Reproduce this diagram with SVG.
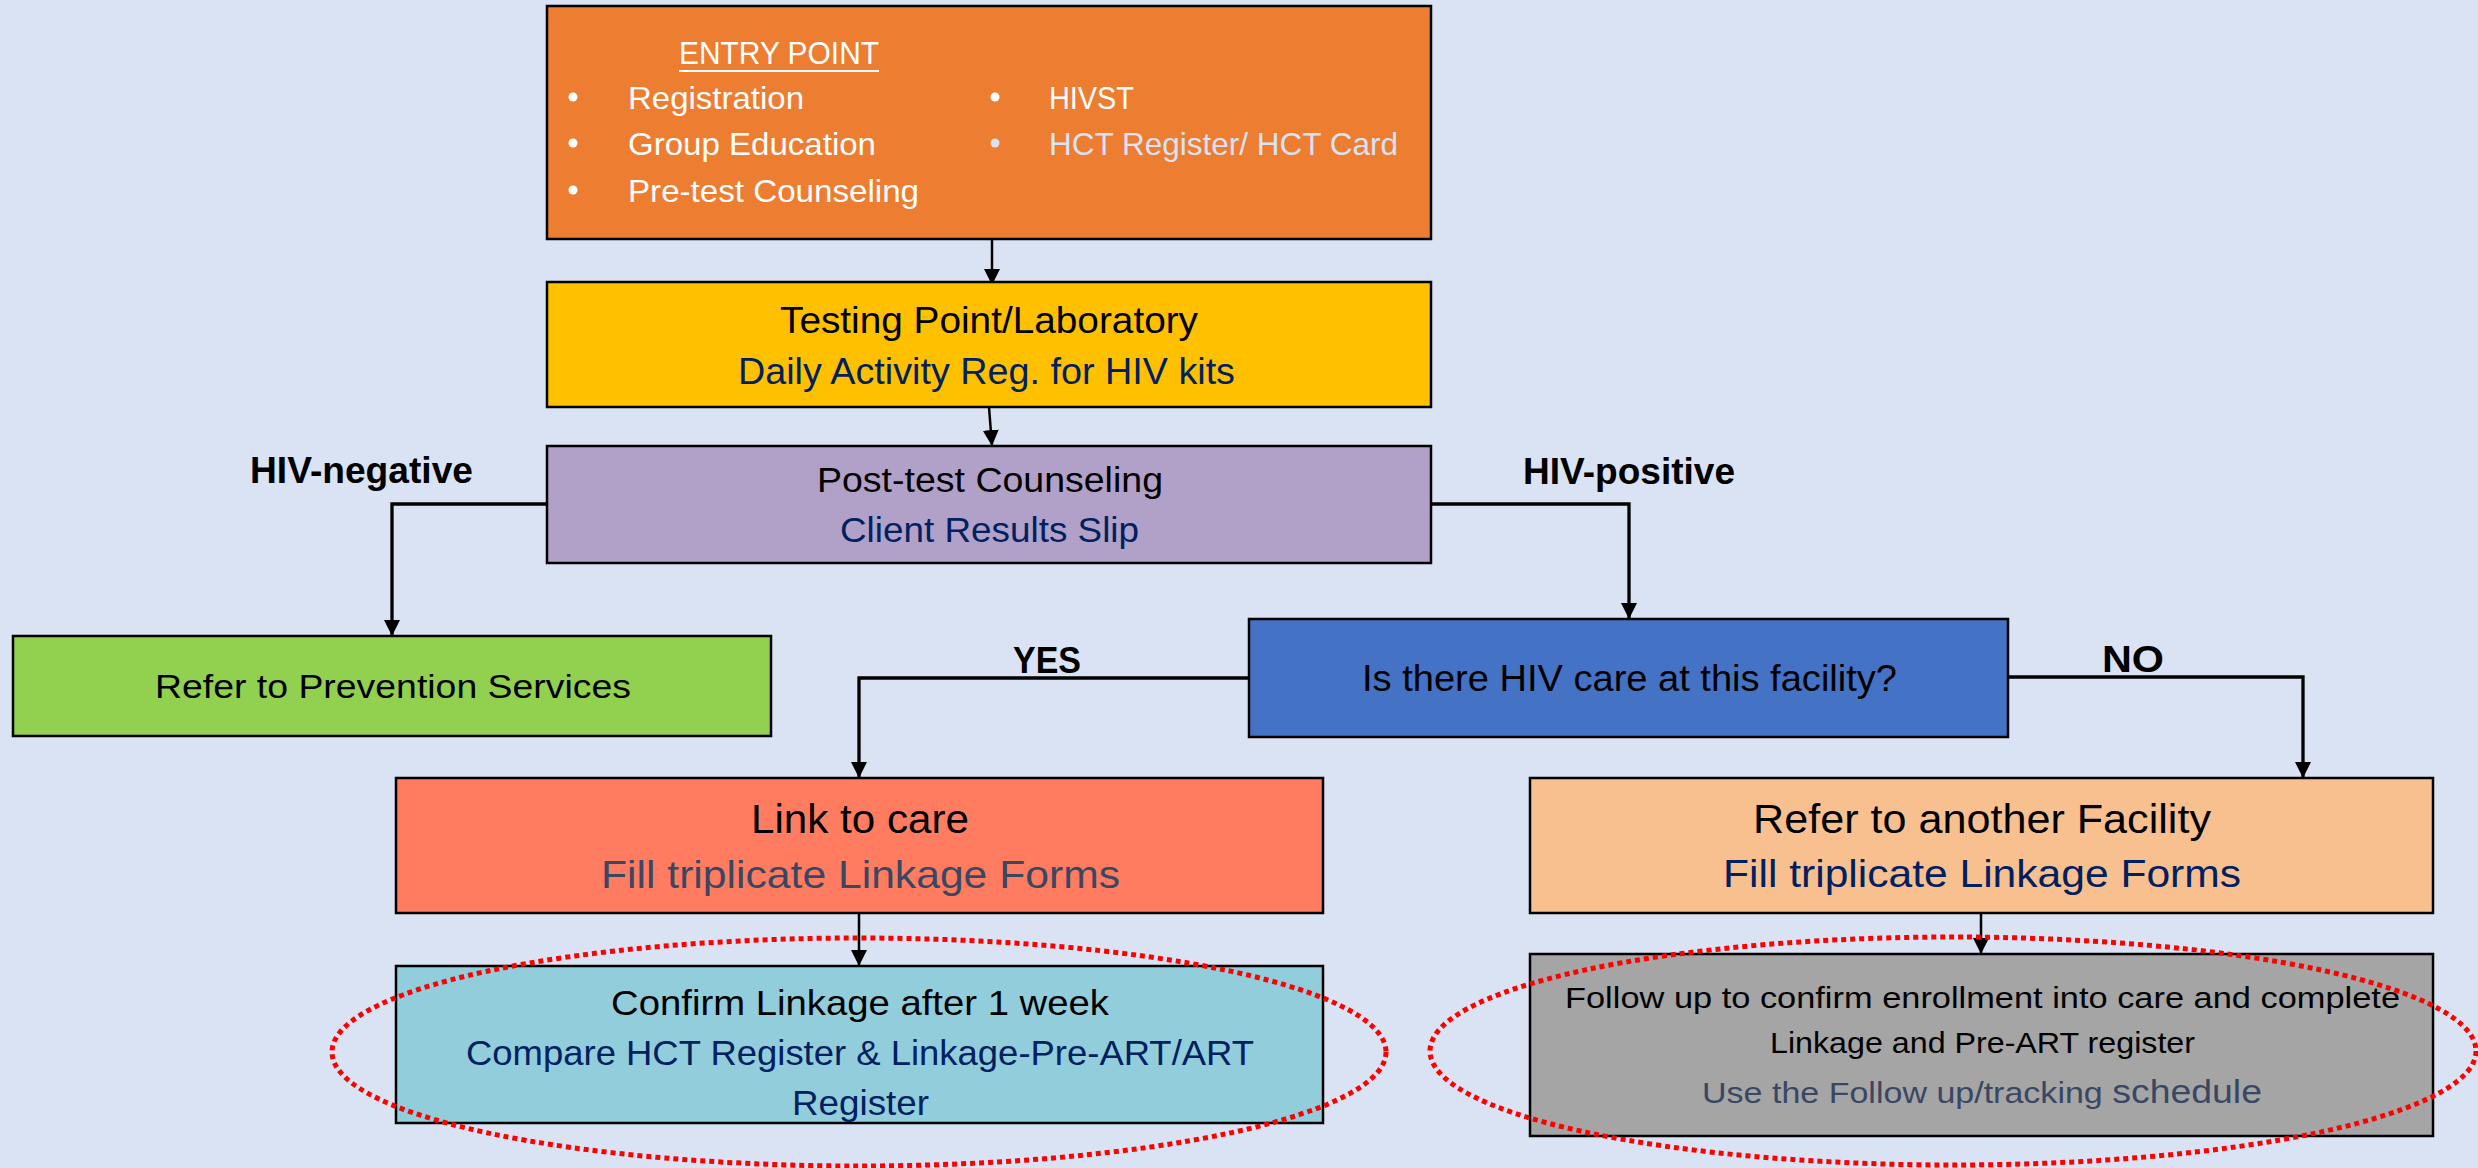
<svg xmlns="http://www.w3.org/2000/svg" width="2478" height="1168" viewBox="0 0 2478 1168">
<defs>
<style>
.box{stroke:#000;stroke-width:2.5}
.t{font-family:"Liberation Sans",Arial,sans-serif;fill:#000}
.w{fill:#fff}
.nv{fill:#002060}
.sl{fill:#3A4763}
.lb{font-family:"Liberation Sans",Arial,sans-serif;font-weight:bold;font-size:36px;fill:#000}
.c{fill:none;stroke:#000;stroke-width:3.3;marker-end:url(#ah)}
.s{fill:none;stroke:#000;stroke-width:2.5;marker-end:url(#ah)}
.dot{fill:none;stroke:#FF0000;stroke-width:5;stroke-dasharray:5 4}
</style>
<marker id="ah" markerUnits="userSpaceOnUse" markerWidth="16" markerHeight="16" refX="16" refY="8" orient="auto" viewBox="0 0 16 16">
<path d="M0,0 L16,8 L0,16 z" fill="#000"/>
</marker>
</defs>
<rect x="0" y="0" width="2478" height="1168" fill="#DAE3F3"/>

<g id="connectors">
<path class="s" d="M992,239 L992,285"/>
<path class="s" d="M989,407 L992,446"/>
<path class="c" d="M547,504 H392 V636"/>
<path class="c" d="M1431,504 H1629 V619"/>
<path class="c" d="M1249,678 H859 V778"/>
<path class="c" d="M2008,677 H2303 V778"/>
<path class="s" d="M859,913 V966"/>
<path class="s" d="M1981,913 V954"/>
<text class="lb" x="250" y="483" textLength="223" lengthAdjust="spacingAndGlyphs">HIV-negative</text>
<text class="lb" x="1523" y="484" textLength="212" lengthAdjust="spacingAndGlyphs">HIV-positive</text>
<text class="lb" x="1013" y="673" textLength="68" lengthAdjust="spacingAndGlyphs">YES</text>
<text class="lb" x="2102" y="672" textLength="62" lengthAdjust="spacingAndGlyphs">NO</text>
</g>

<g id="entry">
<rect class="box" x="547" y="6" width="884" height="233" fill="#ED7D31"/>
<text class="t w" x="679" y="64" font-size="32" textLength="200" lengthAdjust="spacingAndGlyphs">ENTRY POINT</text>
<line x1="679" y1="71" x2="879" y2="71" stroke="#fff" stroke-width="2"/>
<circle cx="573" cy="97" r="4.5" fill="#fff"/>
<circle cx="573" cy="143" r="4.5" fill="#fff"/>
<circle cx="573" cy="190" r="4.5" fill="#fff"/>
<circle cx="995" cy="97" r="4.5" fill="#fff"/>
<circle cx="995" cy="143" r="4.5" fill="#DAE3F3"/>
<text class="t w" x="628" y="109" font-size="32" textLength="176" lengthAdjust="spacingAndGlyphs">Registration</text>
<text class="t w" x="628" y="155" font-size="32" textLength="248" lengthAdjust="spacingAndGlyphs">Group Education</text>
<text class="t w" x="628" y="202" font-size="32" textLength="291" lengthAdjust="spacingAndGlyphs">Pre-test Counseling</text>
<text class="t w" x="1049" y="109" font-size="32" textLength="85" lengthAdjust="spacingAndGlyphs">HIVST</text>
<text class="t" x="1049" y="155" font-size="32" fill="#DAE3F3" style="fill:#DAE3F3" textLength="349" lengthAdjust="spacingAndGlyphs">HCT Register/ HCT Card</text>
</g>

<g id="testing">
<rect class="box" x="547" y="282" width="884" height="125" fill="#FFC000"/>
<text class="t" x="780" y="333" font-size="36" textLength="418" lengthAdjust="spacingAndGlyphs">Testing Point/Laboratory</text>
<text class="t nv" x="738" y="384" font-size="36" textLength="497" lengthAdjust="spacingAndGlyphs">Daily Activity Reg. for HIV kits</text>
</g>

<g id="posttest">
<rect class="box" x="547" y="446" width="884" height="117" fill="#B1A0C7"/>
<text class="t" x="817" y="492" font-size="35" textLength="346" lengthAdjust="spacingAndGlyphs">Post-test Counseling</text>
<text class="t nv" x="840" y="542" font-size="35" textLength="299" lengthAdjust="spacingAndGlyphs">Client Results Slip</text>
</g>

<g id="prevention">
<rect class="box" x="13" y="636" width="758" height="100" fill="#92D050"/>
<text class="t" x="155" y="698" font-size="33" textLength="476" lengthAdjust="spacingAndGlyphs">Refer to Prevention Services</text>
</g>

<g id="question">
<rect class="box" x="1249" y="619" width="759" height="118" fill="#4472C4"/>
<text class="t" x="1362" y="691" font-size="36" textLength="535" lengthAdjust="spacingAndGlyphs">Is there HIV care at this facility?</text>
</g>

<g id="linkcare">
<rect class="box" x="396" y="778" width="927" height="135" fill="#FF7C60"/>
<text class="t" x="751" y="833" font-size="41" textLength="218" lengthAdjust="spacingAndGlyphs">Link to care</text>
<text class="t sl" x="601" y="888" font-size="39" textLength="519" lengthAdjust="spacingAndGlyphs">Fill triplicate Linkage Forms</text>
</g>

<g id="refer">
<rect class="box" x="1530" y="778" width="903" height="135" fill="#F8BF8F"/>
<text class="t" x="1753" y="833" font-size="40" textLength="458" lengthAdjust="spacingAndGlyphs">Refer to another Facility</text>
<text class="t nv" x="1723" y="887" font-size="39" textLength="518" lengthAdjust="spacingAndGlyphs">Fill triplicate Linkage Forms</text>
</g>

<g id="confirm">
<rect class="box" x="396" y="966" width="927" height="157" fill="#92CDDC"/>
<text class="t" x="611" y="1015" font-size="35" textLength="498" lengthAdjust="spacingAndGlyphs">Confirm Linkage after 1 week</text>
<text class="t nv" x="466" y="1065" font-size="35" textLength="788" lengthAdjust="spacingAndGlyphs">Compare HCT Register &amp; Linkage-Pre-ART/ART</text>
<text class="t nv" x="792" y="1115" font-size="35" textLength="137" lengthAdjust="spacingAndGlyphs">Register</text>
</g>

<g id="followup">
<rect class="box" x="1530" y="954" width="903" height="182" fill="#A5A5A5"/>
<text class="t" x="1565" y="1008" font-size="30" textLength="835" lengthAdjust="spacingAndGlyphs">Follow up to confirm enrollment into care and complete</text>
<text class="t" x="1770" y="1053" font-size="30" textLength="425" lengthAdjust="spacingAndGlyphs">Linkage and Pre-ART register</text>
<text class="t sl" x="1702" y="1103" font-size="30" textLength="560" lengthAdjust="spacingAndGlyphs">Use the Follow up/tracking <tspan font-size="33">schedule</tspan></text>
</g>

<g id="highlights">
<ellipse class="dot" cx="859" cy="1052" rx="527" ry="114"/>
<ellipse class="dot" cx="1953" cy="1051" rx="523" ry="114"/>
</g>
</svg>
